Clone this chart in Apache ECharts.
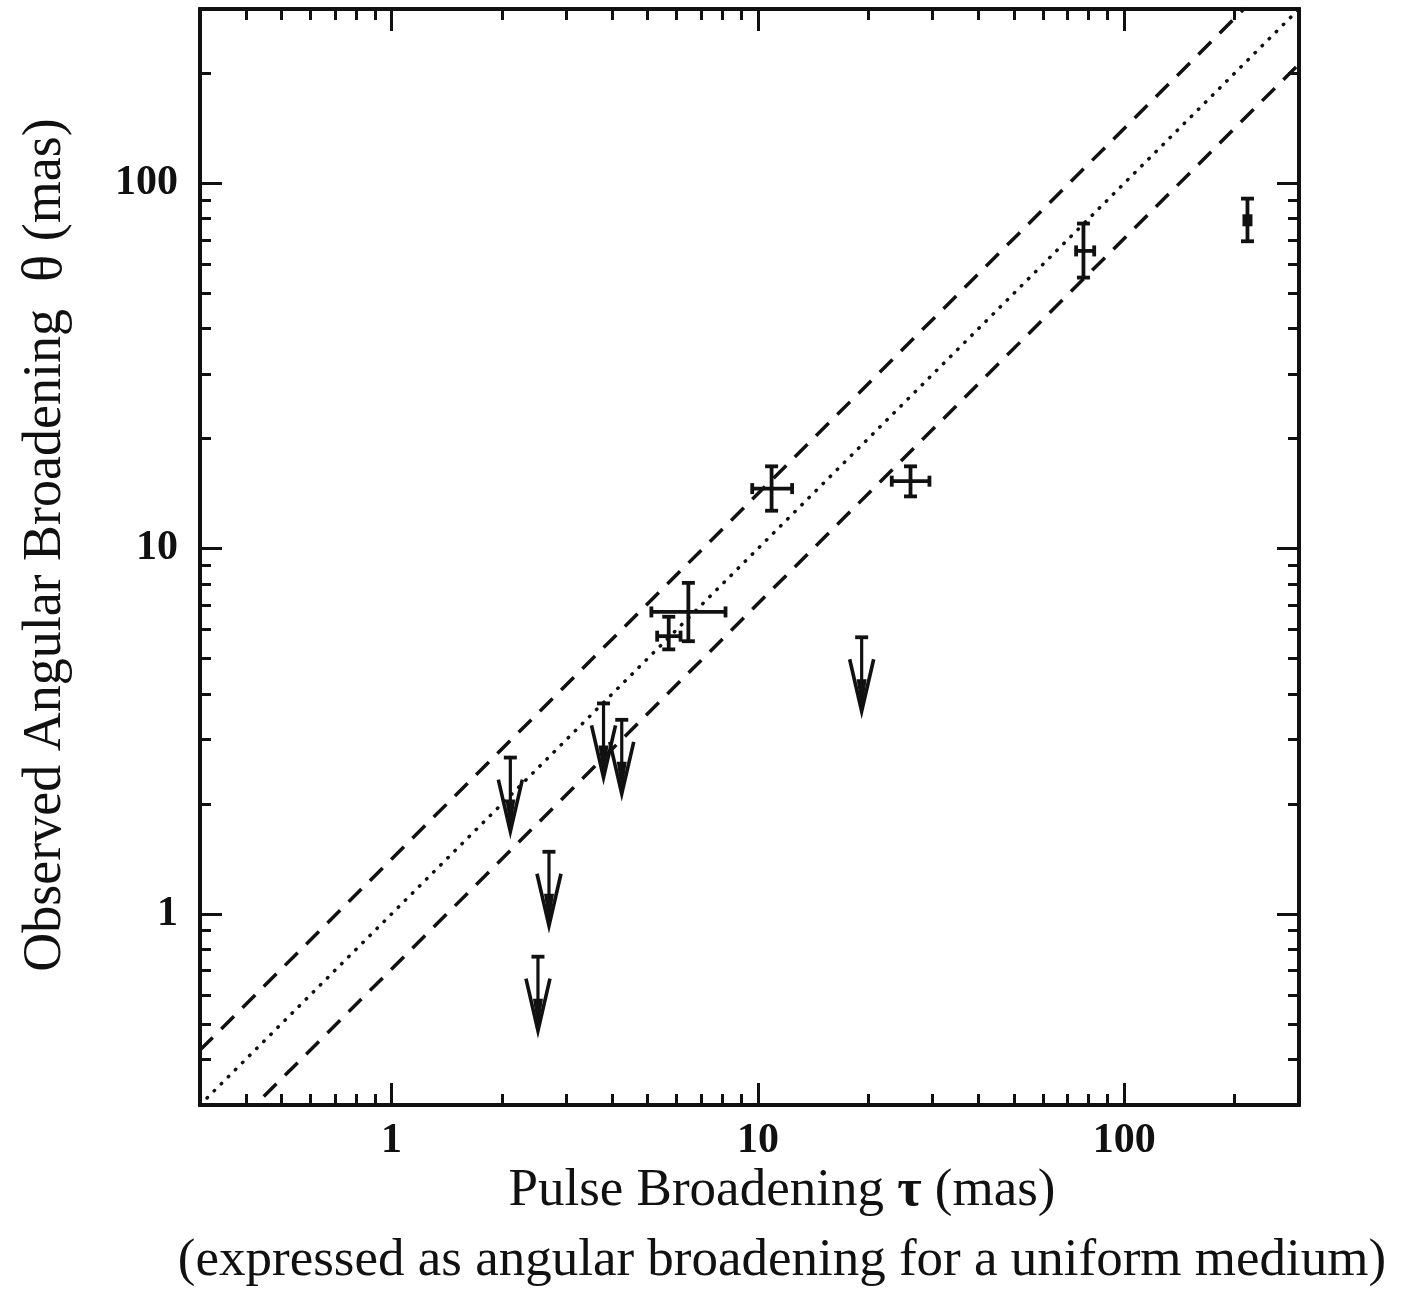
<!DOCTYPE html>
<html>
<head>
<meta charset="utf-8">
<script src="https://cdn.jsdelivr.net/npm/echarts@6/dist/echarts.min.js"></script>
<style>
  html, body { margin: 0; padding: 0; background: #fff; }
  #chart { width: 1414px; height: 1291px; }
</style>
</head>
<body>
<div id="chart"></div>
<script>
// Axis ticks (same decades on both axes)
const majorTicks = [1, 10, 100];
const minorTicks = [0.4, 0.5, 0.6, 0.7, 0.8, 0.9,
                    2, 3, 4, 5, 6, 7, 8, 9,
                    20, 30, 40, 50, 60, 70, 80, 90, 200];

// Measured sources: pulse broadening tau and angular broadening theta (mas)
const tau       = [6.46, 5.71, 10.9, 26.1, 77.4, 217];
const tauLow    = [5.12, 5.31, 9.65, 23.2, 73.9, 217];
const tauHigh   = [8.16, 6.15, 12.4, 29.4, 82.8, 217];
const theta     = [6.71, 5.76, 14.6, 15.3, 65.3, 79.2];
const thetaLow  = [5.58, 5.30, 12.7, 13.9, 55.2, 69.4];
const thetaHigh = [8.06, 6.51, 16.8, 16.8, 77.6, 90.8];
const solidMark = [false, false, false, false, false, true];

// Upper limits on theta
const limitTau   = [2.11, 2.69, 2.51, 3.79, 4.25, 19.2];
const limitTheta = [2.68, 1.48, 0.764, 3.77, 3.40, 5.72];

// Reference lines: theta = tau, and a factor of ~1.41 either side
const guideTau    = [0.3, 300];
const equalTheta  = [0.3, 300];
const upperTheta  = [0.424, 424];
const lowerTheta  = [0.212, 212];

const INK = '#111';
const FONT = '"Liberation Serif", "Times New Roman", serif';

function axisDef(dim, position, ticks, tickLen, withLabels) {
  return {
    type: 'log',
    logBase: 10,
    min: 0.3,
    max: 300,
    position: position,
    axisLine: { show: true, lineStyle: { color: INK, width: 4 } },
    axisTick: {
      show: true, inside: true, length: tickLen, customValues: ticks,
      lineStyle: { color: INK, width: 3 }
    },
    minorTick: { show: false },
    splitLine: { show: false },
    axisLabel: withLabels ? {
      show: true, customValues: ticks,
      fontFamily: FONT, fontSize: 42, fontWeight: 'bold', color: INK,
      margin: dim === 'x' ? 15 : 22,
      formatter: v => String(Math.round(v))
    } : { show: false }
  };
}

function renderDetection(params, api) {
  const i = params.dataIndex;
  const c = api.coord([tau[i], theta[i]]);
  const yTop = api.coord([tau[i], thetaHigh[i]])[1];
  const yBot = api.coord([tau[i], thetaLow[i]])[1];
  const xL = api.coord([tauLow[i], theta[i]])[0];
  const xR = api.coord([tauHigh[i], theta[i]])[0];
  const st = { stroke: INK, lineWidth: 3.8 };
  const kids = [
    { type: 'line', shape: { x1: c[0], y1: yTop, x2: c[0], y2: yBot }, style: st },
    { type: 'line', shape: { x1: c[0] - 6.5, y1: yTop, x2: c[0] + 6.5, y2: yTop }, style: st },
    { type: 'line', shape: { x1: c[0] - 6.5, y1: yBot, x2: c[0] + 6.5, y2: yBot }, style: st }
  ];
  if (xR - xL > 2) {
    kids.push(
      { type: 'line', shape: { x1: xL, y1: c[1], x2: xR, y2: c[1] }, style: st },
      { type: 'line', shape: { x1: xL, y1: c[1] - 5.5, x2: xL, y2: c[1] + 5.5 }, style: st },
      { type: 'line', shape: { x1: xR, y1: c[1] - 5.5, x2: xR, y2: c[1] + 5.5 }, style: st }
    );
  }
  if (solidMark[i]) {
    kids.push({ type: 'rect', shape: { x: c[0] - 5, y: c[1] - 6, width: 10, height: 12 }, style: { fill: INK } });
  }
  return { type: 'group', children: kids };
}

function renderLimit(params, api) {
  const i = params.dataIndex;
  const p = api.coord([limitTau[i], limitTheta[i]]);
  const x = p[0], top = p[1], tip = top + 74;
  return {
    type: 'group',
    children: [
      { type: 'line', shape: { x1: x - 6.5, y1: top, x2: x + 6.5, y2: top }, style: { stroke: INK, lineWidth: 3.8 } },
      { type: 'line', shape: { x1: x, y1: top, x2: x, y2: tip - 6 }, style: { stroke: INK, lineWidth: 3.2 } },
      { type: 'polyline', shape: { points: [[x - 12, tip - 52], [x, tip], [x + 12, tip - 52]] },
        style: { stroke: INK, lineWidth: 3.6, fill: null, lineJoin: 'miter' } },
      { type: 'polygon', shape: { points: [[x - 5, tip - 32], [x, tip], [x + 5, tip - 32]] },
        style: { fill: INK } }
    ]
  };
}

const chart = echarts.init(document.getElementById('chart'), null, { renderer: 'canvas' });

chart.setOption({
  animation: false,
  backgroundColor: '#fff',
  grid: {
    left: 200, right: 115, top: 9, bottom: 186,
    containLabel: false, outerBoundsMode: 'none'
  },
  xAxis: [
    axisDef('x', 'bottom', majorTicks, 22, true),
    axisDef('x', 'bottom', minorTicks, 11, false),
    axisDef('x', 'top', majorTicks, 22, false),
    axisDef('x', 'top', minorTicks, 11, false)
  ],
  yAxis: [
    axisDef('y', 'left', majorTicks, 22, true),
    axisDef('y', 'left', minorTicks, 11, false),
    axisDef('y', 'right', majorTicks, 22, false),
    axisDef('y', 'right', minorTicks, 11, false)
  ],
  series: [
    {
      type: 'line', name: 'upper', symbol: 'none', silent: true, clip: true,
      data: guideTau.map((t, i) => [t, upperTheta[i]]),
      lineStyle: { color: INK, width: 3.5, type: [18, 12] }
    },
    {
      type: 'line', name: 'equal', symbol: 'none', silent: true, clip: true,
      data: guideTau.map((t, i) => [t, equalTheta[i]]),
      lineStyle: { color: INK, width: 3.5, type: [0.5, 9.5], cap: 'round' }
    },
    {
      type: 'line', name: 'lower', symbol: 'none', silent: true, clip: true,
      data: guideTau.map((t, i) => [t, lowerTheta[i]]),
      lineStyle: { color: INK, width: 3.5, type: [18, 12] }
    },
    {
      type: 'custom', name: 'detections',
      data: tau.map((t, i) => [t, theta[i]]),
      encode: { x: 0, y: 1 },
      renderItem: renderDetection
    },
    {
      type: 'custom', name: 'limits',
      data: limitTau.map((t, i) => [t, limitTheta[i]]),
      encode: { x: 0, y: 1 },
      renderItem: renderLimit
    }
  ],
  graphic: [
    {
      type: 'text', x: 782, y: 1191,
      style: {
        text: 'Pulse Broadening {t|τ} (mas)',
        font: '53px ' + FONT, fill: INK,
        align: 'center', verticalAlign: 'middle',
        rich: { t: { fontFamily: FONT, fontSize: 53, fontWeight: 'bold', fill: INK } }
      }
    },
    {
      type: 'text', x: 782, y: 1261,
      style: {
        text: '(expressed as angular broadening for a uniform medium)',
        font: '53px ' + FONT, fill: INK,
        align: 'center', verticalAlign: 'middle'
      }
    },
    {
      type: 'text', x: 46, y: 545, rotation: Math.PI / 2,
      style: {
        text: 'Observed Angular Broadening  {q|θ} (mas)',
        font: '54px ' + FONT, fill: INK,
        align: 'center', verticalAlign: 'middle',
        rich: { q: { fontFamily: FONT, fontSize: 57, fill: INK } }
      }
    }
  ]
});
</script>
</body>
</html>
